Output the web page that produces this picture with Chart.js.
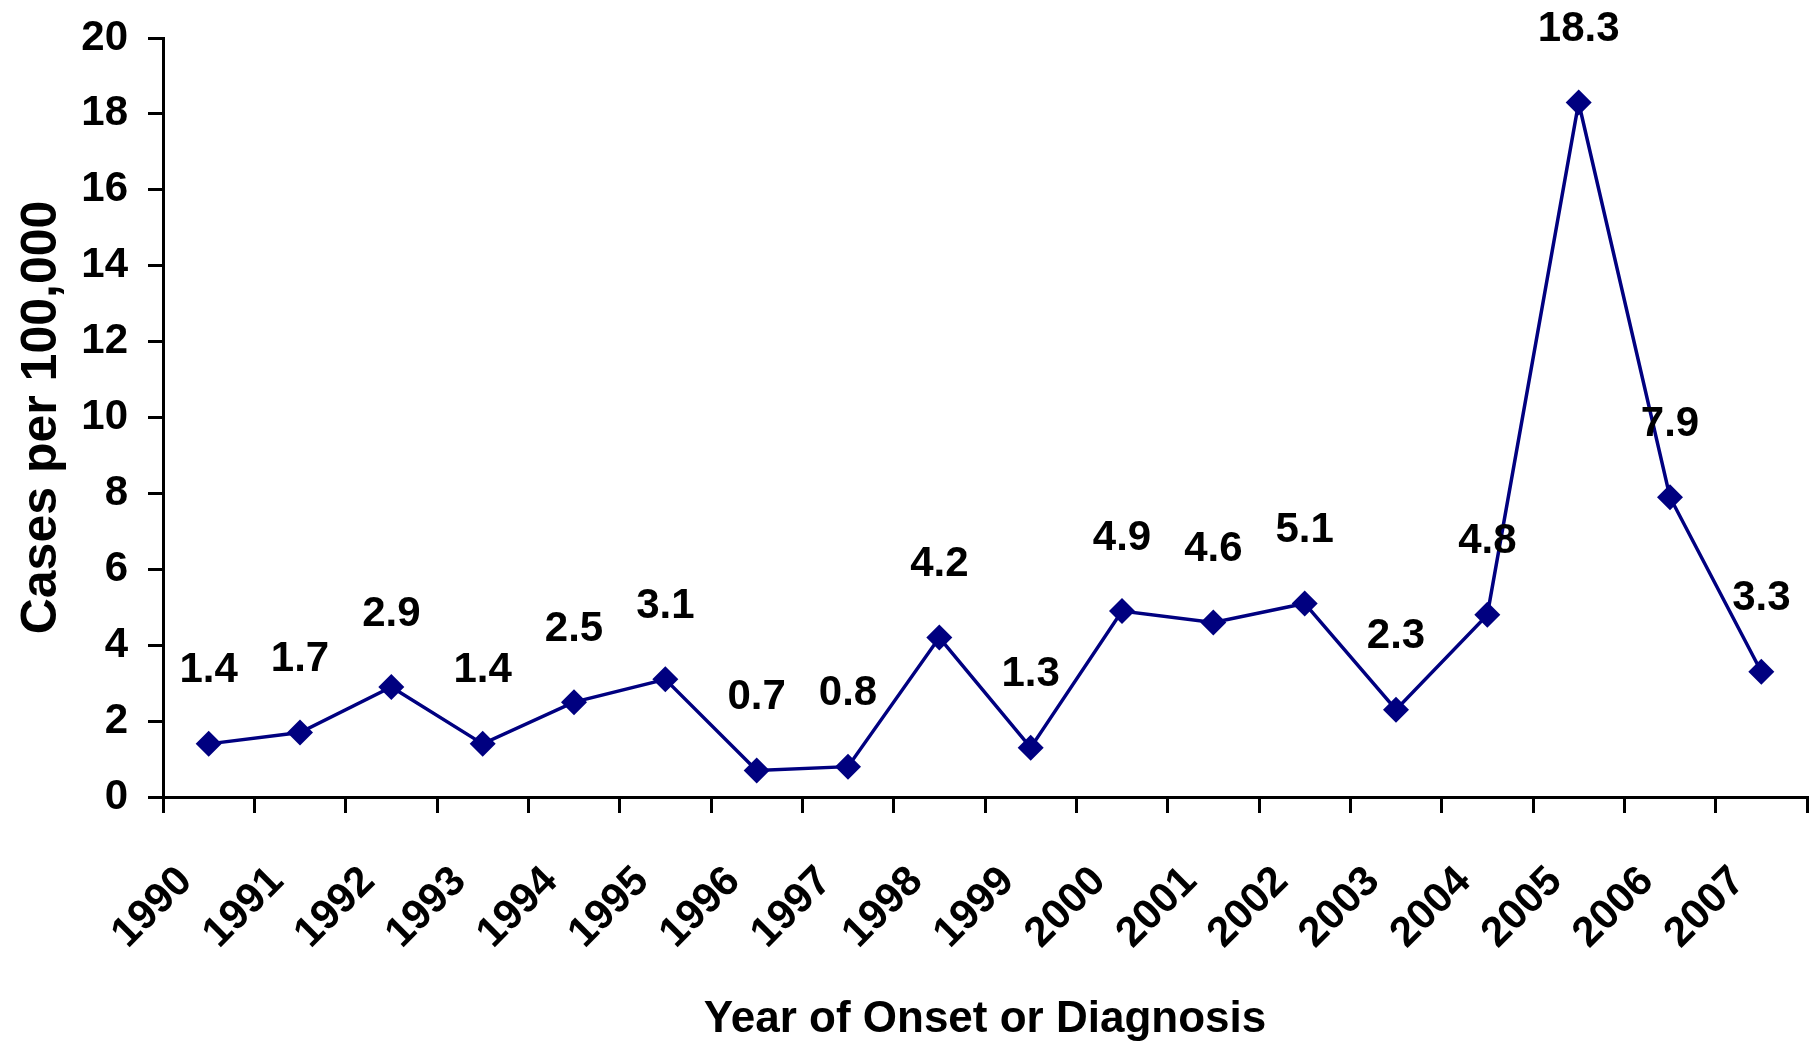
<!DOCTYPE html>
<html>
<head>
<meta charset="utf-8">
<script src="https://cdn.jsdelivr.net/npm/chart.js@4/dist/chart.umd.min.js"></script>
<style>
  html, body { margin: 0; padding: 0; background: #fff; }
  #wrap { width: 1820px; height: 1042px; position: relative; }
</style>
</head>
<body>
<div id="wrap"><canvas id="c"></canvas></div>
<script>
// ---- data ----
const years = ['1990','1991','1992','1993','1994','1995','1996','1997','1998','1999','2000','2001','2002','2003','2004','2005','2006','2007'];
const casesPer100k = [1.4, 1.7, 2.9, 1.4, 2.5, 3.1, 0.7, 0.8, 4.2, 1.3, 4.9, 4.6, 5.1, 2.3, 4.8, 18.3, 7.9, 3.3];
const yTicks = [0, 2, 4, 6, 8, 10, 12, 14, 16, 18, 20];
const xTitle = 'Year of Onset or Diagnosis';
const yTitle = 'Cases per 100,000';

const FONT = '"Liberation Sans", Arial, Helvetica, sans-serif';
const NAVY = '#000080';

Chart.defaults.color = '#000';
Chart.defaults.font.family = FONT;

const valueLabels = {
  id: 'valueLabels',
  afterDatasetsDraw(chart) {
    const ctx = chart.ctx;
    const meta = chart.getDatasetMeta(0);
    ctx.save();
    ctx.font = 'bold 42px ' + FONT;
    ctx.fillStyle = '#000';
    ctx.textAlign = 'center';
    ctx.textBaseline = 'middle';
    meta.data.forEach((pt, i) => {
      ctx.fillText(casesPer100k[i].toFixed(1), pt.x, pt.y - 73);
    });
    ctx.restore();
  }
};

new Chart(document.getElementById('c'), {
  type: 'line',
  data: {
    labels: years,
    datasets: [{
      data: casesPer100k,
      borderColor: NAVY,
      backgroundColor: NAVY,
      borderWidth: 3.5,
      pointStyle: 'rectRot',
      pointRadius: 13,
      pointBorderWidth: 0,
      pointBackgroundColor: NAVY,
      tension: 0,
      clip: false
    }]
  },
  options: {
    responsive: true,
    maintainAspectRatio: false,
    animation: false,
    events: [],
    layout: { padding: { top: 38, right: 3, left: 0, bottom: 0 } },
    plugins: {
      legend: { display: false },
      tooltip: { enabled: false }
    },
    scales: {
      x: {
        type: 'category',
        offset: true,
        grid: { offset: true, drawOnChartArea: false, drawTicks: true, tickLength: 16, color: '#000', lineWidth: 3 },
        border: { display: true, color: '#000', width: 3 },
        ticks: {
          autoSkip: false,
          minRotation: 45,
          maxRotation: 45,
          padding: 44,
          labelOffset: -23,
          color: '#000',
          font: { size: 42, weight: 'bold', family: FONT }
        },
        title: {
          display: true,
          text: xTitle,
          color: '#000',
          padding: { top: 0, bottom: 0 },
          font: { size: 44, weight: 'bold', family: FONT, lineHeight: 1.0 }
        },
        afterFit(scale) { scale.height = 245; scale.paddingLeft = 0; scale.paddingRight = 0; }
      },
      y: {
        min: 0,
        max: 20,
        afterBuildTicks(scale) { scale.ticks = yTicks.map(v => ({ value: v })); },
        grid: { drawOnChartArea: false, drawTicks: true, tickLength: 15, color: '#000', lineWidth: 3 },
        border: { display: true, color: '#000', width: 3 },
        ticks: {
          padding: 20,
          color: '#000',
          font: { size: 42, weight: 'bold', family: FONT }
        },
        title: {
          display: true,
          text: yTitle,
          color: '#000',
          padding: { top: 12, bottom: 0 },
          font: { size: 50, weight: 'bold', family: FONT }
        },
        afterFit(scale) { scale.width = 163; scale.paddingTop = 0; scale.paddingBottom = 0; }
      }
    }
  },
  plugins: [valueLabels]
});
</script>
</body>
</html>
